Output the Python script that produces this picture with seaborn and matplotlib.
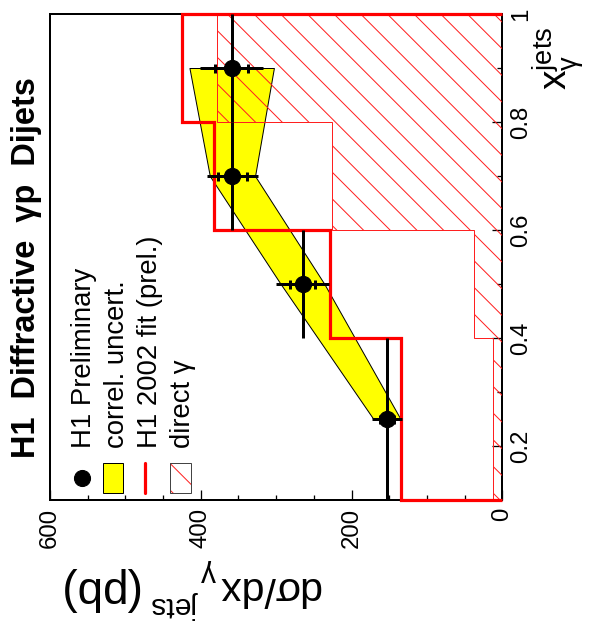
import numpy as np
import pandas as pd
import matplotlib
matplotlib.use('Agg')
import matplotlib.pyplot as plt
import seaborn as sns
from matplotlib.patches import Rectangle
from matplotlib.lines import Line2D

# ---------------- data ----------------
xg_edges = [0.1, 0.4, 0.6, 0.8, 1.0]
xg_points = [0.25, 0.5, 0.7, 0.9]
xs = [153, 265, 358, 359]
xs_stat = [9, 17, 19, 22]
xs_tot = [20, 35, 34, 42]
xs_corr = [18, 29, 30, 56]
fit_2002 = [134, 228, 382, 425]
direct_gamma = [13, 37, 226, 379]

xg_ticks = [0.2, 0.4, 0.6, 0.8, 1.0]
xg_ticklabels = ['0.2', '0.4', '0.6', '0.8', '1']
xs_ticks = [0, 200, 400, 600]
xs_ticklabels = ['0', '200', '400', '600']
legend_labels = ['H1 Preliminary', 'correl. uncert.', 'H1 2002 fit (prel.)', 'direct \u03b3']
title = 'H1  Diffractive  \u03b3p  Dijets'
xlabel_parts = ['d\u03c3/dx', '\u03b3', 'jets', '(pb)']

# ---------------- style ----------------
W, H, DPI = 591, 635, 80
PT = 72 / DPI  # points per pixel

sns.set_theme(style='white')
plt.rcParams['font.family'] = ['Liberation Sans', 'DejaVu Sans']
plt.rcParams['mathtext.fontset'] = 'custom'
plt.rcParams['mathtext.rm'] = 'Liberation Sans'
plt.rcParams['mathtext.it'] = 'Liberation Sans:italic'
plt.rcParams['mathtext.bf'] = 'Liberation Sans:bold'
plt.rcParams['mathtext.default'] = 'regular'
plt.rcParams['hatch.linewidth'] = 1.0 * PT


def fx(px):
    return px / W


def fy(py):
    return 1 - py / H


fig = plt.figure(figsize=(W / DPI, H / DPI), dpi=DPI)
fig.patch.set_facecolor('white')
ax = fig.add_axes([fx(50), fy(500), (502.3 - 50) / W, (500 - 14) / H])
ax.set_facecolor('white')

xg_p = np.array(xg_points)
xs_a = np.array(xs)
edges = np.array(xg_edges)

# correlated uncertainty band
ax.fill_betweenx(xg_p, xs_a - np.array(xs_corr), xs_a + np.array(xs_corr),
                 facecolor='#ffff00', edgecolor='black', linewidth=1.0 * PT, zorder=2)

# direct gamma (hatched)
ax.stairs(direct_gamma, xg_edges, orientation='horizontal', baseline=0, fill=True,
          facecolor='none', edgecolor='#ff2020', linewidth=1.0 * PT, hatch='\\', zorder=3)

# H1 2002 fit
ax.stairs(fit_2002, xg_edges, orientation='horizontal', baseline=0, fill=False,
          edgecolor='#ff0000', linewidth=3.2 * PT, zorder=4, clip_on=False)

# data points
ylo = xg_p - edges[:-1]
yhi = edges[1:] - xg_p
ax.errorbar(xs_a, xg_p, xerr=xs_tot, yerr=[ylo, yhi], fmt='none', ecolor='black',
            elinewidth=3.0 * PT, capsize=0, zorder=5)
ax.errorbar(xs_a, xg_p, xerr=xs_stat, fmt='none', ecolor='black',
            elinewidth=3.0 * PT, capsize=4.5 * PT, capthick=3.0 * PT, zorder=5)
df = pd.DataFrame({'xs': xs, 'xg': xg_points})
sns.scatterplot(data=df, x='xs', y='xg', ax=ax, color='black', edgecolor='black',
                s=(16 * PT) ** 2, zorder=6, legend=False)

# axes
ax.set_xlim(600, 0)
ax.set_ylim(0.1, 1.0)
ax.set_xlabel('')
ax.set_ylabel('')
ax.yaxis.tick_right()
ax.set_xticks(xs_ticks)
ax.set_xticklabels(xs_ticklabels, rotation=90)
ax.set_xticks(np.arange(0, 601, 50), minor=True)
ax.set_yticks(xg_ticks)
ax.set_yticklabels(xg_ticklabels, rotation=90, va='center')
ax.set_yticks(np.arange(0.1, 1.0001, 0.1), minor=True)
ax.tick_params(which='major', direction='in', length=10 * PT, width=1.3 * PT,
               labelsize=24 * PT, pad=8 * PT, color='black', labelcolor='black')
ax.tick_params(which='minor', direction='in', length=5 * PT, width=1.3 * PT, color='black')
ax.tick_params(axis='x', which='both', bottom=True, top=False)
ax.tick_params(axis='y', which='both', right=True, left=False)
for s in ax.spines.values():
    s.set_color('black')
    s.set_linewidth(2.0 * PT)

renderer = fig.canvas.get_renderer()

# x-axis title, rotated 180 deg, built from pieces (reads right to left)
main_fs, small_fs, unit_fs = 41 * PT, 30 * PT, 46 * PT
base_y = 577
kw180 = dict(rotation=180, rotation_mode='anchor', ha='left', va='baseline', color='black')
t1 = fig.text(fx(320), fy(base_y), xlabel_parts[0], fontsize=main_fs, **kw180)
x_next = t1.get_window_extent(renderer).x0 - 1
t2 = fig.text(x_next / W, fy(base_y - 12), xlabel_parts[1], fontsize=small_fs, **kw180)
x_next = t2.get_window_extent(renderer).x0 - 2
t3 = fig.text(x_next / W, fy(base_y + 20), xlabel_parts[2], fontsize=small_fs, **kw180)
x_next = t3.get_window_extent(renderer).x0 - 14
fig.text(x_next / W, fy(base_y), xlabel_parts[3], fontsize=unit_fs, **kw180)

# y-axis title
fig.text(fx(568), fy(27), r'$x_{\gamma}^{jets}$', rotation=90,
         rotation_mode='anchor', ha='right', va='baseline', fontsize=39 * PT, color='black')

# title
fig.text(fx(35), fy(458), title, rotation=90, rotation_mode='anchor', ha='left',
         va='baseline', fontsize=32.5 * PT, fontweight='bold', color='black')

# legend
for i, lab in enumerate(legend_labels):
    fig.text(fx(91 + 33 * i), fy(448), lab, rotation=90, rotation_mode='anchor',
             ha='left', va='baseline', fontsize=27.5 * PT, color='black')
fig.add_artist(Line2D([fx(82)], [fy(478)], marker='o', ms=16 * PT, color='black',
                      linestyle='none', transform=fig.transFigure))
fig.add_artist(Rectangle((fx(103), fy(493)), 20 / W, 30 / H, facecolor='#ffff00',
                         edgecolor='black', lw=1.0 * PT, transform=fig.transFigure))
fig.add_artist(Line2D([fx(145), fx(145)], [fy(463), fy(493)], color='#ff0000',
                      lw=3.2 * PT, transform=fig.transFigure))
fig.add_artist(Rectangle((fx(170), fy(493)), 21 / W, 30 / H, facecolor='none',
                         edgecolor='#ff2020', lw=0, hatch='\\', transform=fig.transFigure))
fig.add_artist(Rectangle((fx(170), fy(493)), 21 / W, 30 / H, facecolor='none',
                         edgecolor='#444444', lw=1.0 * PT, transform=fig.transFigure))

fig.savefig('out.png', dpi=DPI, facecolor='white')
